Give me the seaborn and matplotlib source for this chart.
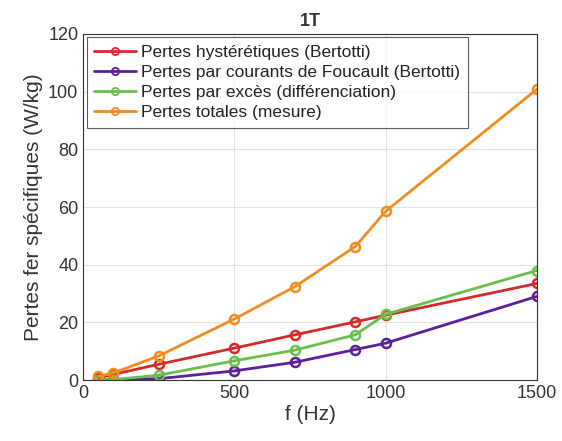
import numpy as np
import pandas as pd
import matplotlib
matplotlib.use('Agg')
import matplotlib.pyplot as plt
import seaborn as sns

freq = [50, 100, 250, 500, 700, 900, 1000, 1500]
hyst = [0.8, 2.0, 5.5, 11.1, 15.7, 20.2, 22.5, 33.5]
foucault = [0.05, 0.2, 0.5, 3.2, 6.2, 10.6, 12.8, 29.0]
exces = [0.1, 0.2, 1.7, 6.7, 10.4, 15.7, 22.8, 38.0]
totales = [1.3, 2.5, 8.4, 21.2, 32.4, 46.3, 58.5, 100.8]

labels = ['Pertes hystérétiques (Bertotti)',
          'Pertes par courants de Foucault (Bertotti)',
          'Pertes par excès (différenciation)',
          'Pertes totales (mesure)']
colors = ['#d42a2a', '#5c1f9a', '#6abf4b', '#f28c1e']

sns.set_style('white')
plt.rcParams['font.family'] = ['Liberation Sans', 'DejaVu Sans']

df = pd.DataFrame({'f': freq * 4,
                   'val': hyst + foucault + exces + totales,
                   'serie': [l for l in labels for _ in freq]})

txt = '#333333'
fig = plt.figure(figsize=(5.62, 4.41), dpi=100)
ax = fig.add_axes([0.148, 0.138, 0.807, 0.785])

for lab, c in zip(labels, colors):
    sns.lineplot(data=df[df['serie'] == lab], x='f', y='val', ax=ax, color=c,
                 linewidth=2, marker='o', markersize=6.5, markerfacecolor='none',
                 markeredgecolor=c, markeredgewidth=1.8, label=lab)

ax.set_xlim(0, 1500)
ax.set_ylim(0, 120)
ax.set_xticks([0, 500, 1000, 1500])
ax.set_yticks(np.arange(0, 121, 20))
ax.grid(True, color='#e2e2e2', linewidth=0.8)
ax.set_axisbelow(True)
ax.tick_params(direction='in', labelsize=13, colors=txt, length=4)
for s in ax.spines.values():
    s.set_color(txt)
    s.set_linewidth(0.8)
ax.set_xlabel('f (Hz)', fontsize=15, color=txt, labelpad=2)
ax.set_ylabel('Pertes fer spécifiques (W/kg)', fontsize=15, color=txt, labelpad=4)
ax.set_title('1T', fontsize=13, fontweight='bold', color=txt)

leg = ax.legend(loc='upper left', fontsize=12.5, frameon=True, fancybox=False,
                edgecolor=txt, borderpad=0.45, labelspacing=0.28,
                handlelength=2.4, handletextpad=0.3, borderaxespad=0.2,
                markerscale=0.8)
leg.get_frame().set_linewidth(0.8)
for t in leg.get_texts():
    t.set_color('#222222')
for h in leg.legend_handles:
    h.set_markeredgewidth(1.3)

fig.savefig('out.png', dpi=100)
